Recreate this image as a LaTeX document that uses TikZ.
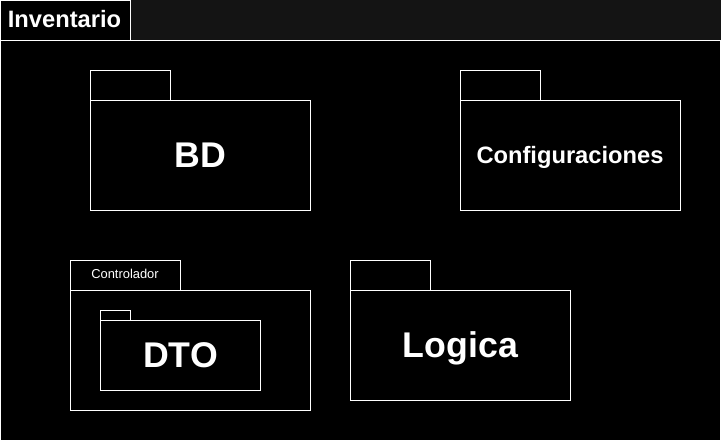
\documentclass[tikz,border=0pt]{standalone}
\usepackage{fontspec}
\setmainfont{Liberation Sans}
\definecolor{hdr}{HTML}{141414}
\tikzset{
  box/.style={draw=white, line width=1pt, fill=black, anchor=north west, inner sep=0pt, outer sep=0pt},
  big/.style={text=white, anchor=base, inner sep=0pt, font=\bfseries\fontsize{35.7}{40}\selectfont},
  mid/.style={text=white, anchor=base, inner sep=0pt, font=\bfseries\fontsize{23.7}{27}\selectfont},
  small/.style={text=white, anchor=base, inner sep=0pt, font=\fontsize{12.9}{15}\selectfont}
}
\begin{document}
\begin{tikzpicture}[x=1pt,y=-1pt]
\useasboundingbox (0,0) rectangle (721,441);
\fill[black] (0,0) rectangle (721,441);
\fill[hdr] (0,0) rectangle (721,40.5);
% outer frame
\node[box, minimum width=720pt, minimum height=400pt] (frame) at (0.5,40.5) {};
\node[box, minimum width=130pt, minimum height=40pt] (invtab) at (0.5,0.5) {};
\node[mid] (invtxt) at (64.5,27.5) {Inventario};
% BD
\node[box, minimum width=80pt, minimum height=30pt] (bdtab) at (90.5,70.5) {};
\node[box, minimum width=220pt, minimum height=110pt] (bd) at (90.5,100.5) {};
\node[big] (bdtxt) at (200.5,168) {BD};
% Configuraciones
\node[box, minimum width=80pt, minimum height=30pt] (cftab) at (460.5,70.5) {};
\node[box, minimum width=220pt, minimum height=110pt] (cf) at (460.5,100.5) {};
\node[mid] (cftxt) at (570,163.5) {Configuraciones};
% Controlador
\node[box, minimum width=110pt, minimum height=30pt] (cttab) at (70.5,260.5) {};
\node[small] (cttxt) at (125,278.5) {Controlador};
\node[box, minimum width=240pt, minimum height=120pt] (ct) at (70.5,290.5) {};
% DTO
\node[box, minimum width=30pt, minimum height=10pt] (dtotab) at (100.5,310.5) {};
\node[box, minimum width=160pt, minimum height=70pt] (dto) at (100.5,320.5) {};
\node[big] (dtotxt) at (180.5,367) {DTO};
% Logica
\node[box, minimum width=80pt, minimum height=30pt] (lgtab) at (350.5,260.5) {};
\node[box, minimum width=220pt, minimum height=110pt] (lg) at (350.5,290.5) {};
\node[big] (lgtxt) at (460.5,357) {Logica};
\end{tikzpicture}
\end{document}
